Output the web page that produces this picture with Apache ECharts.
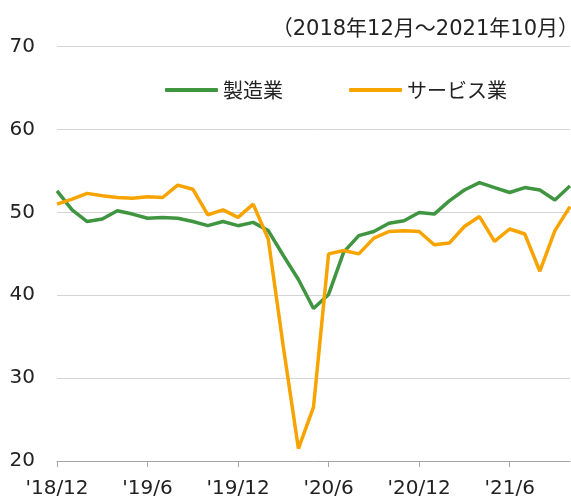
<!DOCTYPE html>
<html>
<head>
<meta charset="utf-8">
<script src="https://cdn.jsdelivr.net/npm/echarts@6/dist/echarts.min.js"></script>
<style>
  html, body { margin: 0; padding: 0; background: #fff; }
  #chart { width: 571px; height: 499px; }
</style>
</head>
<body>
<div id="chart"></div>
<script>
// 月（2018年12月～2021年10月）
var months = [
  "'18/12", "'19/1", "'19/2", "'19/3", "'19/4", "'19/5", "'19/6", "'19/7", "'19/8", "'19/9", "'19/10", "'19/11",
  "'19/12", "'20/1", "'20/2", "'20/3", "'20/4", "'20/5", "'20/6", "'20/7", "'20/8", "'20/9", "'20/10", "'20/11",
  "'20/12", "'21/1", "'21/2", "'21/3", "'21/4", "'21/5", "'21/6", "'21/7", "'21/8", "'21/9", "'21/10"
];
// 製造業
var manufacturing = [
  52.6, 50.3, 48.9, 49.2, 50.2, 49.8, 49.3, 49.4, 49.3, 48.9, 48.4, 48.9,
  48.4, 48.8, 47.8, 44.8, 41.9, 38.4, 40.1, 45.2, 47.2, 47.7, 48.7, 49.0,
  50.0, 49.8, 51.4, 52.7, 53.6, 53.0, 52.4, 53.0, 52.7, 51.5, 53.2
];
// サービス業
var services = [
  51.0, 51.6, 52.3, 52.0, 51.8, 51.7, 51.9, 51.8, 53.3, 52.8, 49.7, 50.3,
  49.4, 51.0, 46.8, 33.8, 21.5, 26.5, 45.0, 45.4, 45.0, 46.9, 47.7, 47.8,
  47.7, 46.1, 46.3, 48.3, 49.5, 46.5, 48.0, 47.4, 42.9, 47.8, 50.7
];
var yTicks = [20, 30, 40, 50, 60, 70];

var chart = echarts.init(document.getElementById('chart'));
var latin = "'DejaVu Sans', 'Noto Sans CJK JP', sans-serif";
var jp = "'Noto Sans CJK JP', sans-serif";

var option = {
  animation: false,
  title: {
    text: '（2018年12月～2021年10月）',
    right: -13,
    top: 14,
    textStyle: { fontSize: 21, fontWeight: 'normal', color: '#222', fontFamily: latin }
  },
  legend: {
    left: 160,
    top: 75,
    itemWidth: 53,
    itemHeight: 4,
    itemGap: 66,
    icon: 'roundRect',
    textStyle: { fontSize: 20, color: '#222', fontFamily: jp, lineHeight: 20 },
    data: ['製造業', 'サービス業']
  },
  grid: { left: 57, right: 1, top: 46.7, bottom: 38 },
  xAxis: {
    type: 'category',
    boundaryGap: false,
    data: months,
    axisLine: { lineStyle: { color: '#a6a6a6', width: 1 } },
    axisTick: { interval: 5, length: 6, lineStyle: { color: '#a6a6a6' } },
    axisLabel: { interval: 5, fontSize: 20, color: '#222', fontFamily: latin, margin: 18 },
    splitLine: { show: false }
  },
  yAxis: {
    type: 'value',
    min: yTicks[0],
    max: yTicks[yTicks.length - 1],
    interval: 10,
    axisLine: { show: false },
    axisTick: { show: false },
    axisLabel: { fontSize: 20, color: '#222', fontFamily: latin, margin: 22 },
    splitLine: { lineStyle: { color: '#d4d4d4', width: 1 } }
  },
  series: [
    {
      name: '製造業',
      type: 'line',
      data: manufacturing,
      symbol: 'none',
      color: '#3f9540',
      lineStyle: { width: 3.5, color: '#3f9540' }
    },
    {
      name: 'サービス業',
      type: 'line',
      data: services,
      symbol: 'none',
      color: '#f7a300',
      lineStyle: { width: 3.5, color: '#f7a300' }
    }
  ]
};
chart.setOption(option);
</script>
</body>
</html>
